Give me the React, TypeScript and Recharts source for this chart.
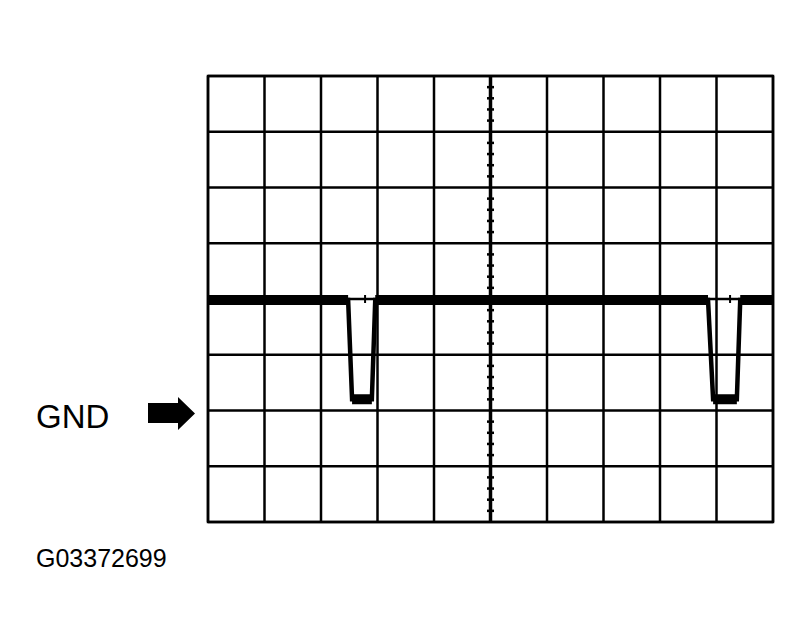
import React from 'react';
import {
  ComposedChart,
  Line,
  Scatter,
  XAxis,
  YAxis,
  CartesianGrid,
  ReferenceLine,
  ReferenceArea,
} from 'recharts';

// scope trace, in divisions (x: 0..10, y: -4..4, 0 = centre line)
const traceX = [0, 2.48, 2.55, 2.9, 2.96, 8.85, 8.94, 9.36, 9.42, 10];
const traceY = [-0.02, -0.02, -1.8, -1.8, -0.02, -0.02, -1.8, -1.8, -0.02, -0.02];

const gridX = [0, 1, 2, 3, 4, 5, 6, 7, 8, 9, 10];
const gridY = [-4, -3, -2, -1, 0, 1, 2, 3, 4];

// minor marks on the vertical centre axis
const minorY = [
  3.8, 3.6, 3.4, 3.2, 2.8, 2.6, 2.4, 2.2, 1.8, 1.6, 1.4, 1.2, 0.8, 0.6, 0.4, 0.2,
  -0.2, -0.4, -0.6, -0.8, -1.2, -1.4, -1.6, -1.8, -2.2, -2.4, -2.6, -2.8, -3.2, -3.4, -3.6, -3.8,
];
// markers visible on the centre line during the dips
const markerX = [2.78, 9.24];

const traceData = traceX.map((x, i) => ({ x, y: traceY[i] }));

// flat parts of the trace are drawn thicker (noise band), split with null gaps
const bandData: { x: number; band: number | null }[] = [];
traceData.forEach((p, i) => {
  const next = traceData[i + 1];
  if (next && next.y === p.y) {
    bandData.push({ x: p.x, band: p.y });
    bandData.push({ x: next.x, band: next.y });
    bandData.push({ x: next.x, band: null });
  }
});

const minorData = minorY.map((y) => ({ x: 5, y }));
const markerData = markerX.map((x) => ({ x, y: 0 }));

const HDash = (props: any) => (
  <line x1={props.cx - 3.5} x2={props.cx + 3.5} y1={props.cy} y2={props.cy} stroke="#000" strokeWidth={2.5} />
);
const VDash = (props: any) => (
  <g>
    <line x1={props.cx} x2={props.cx} y1={props.cy - 4} y2={props.cy + 4} stroke="#000" strokeWidth={2} />
    <line x1={props.cx - 3} x2={props.cx + 3} y1={props.cy} y2={props.cy} stroke="#000" strokeWidth={1} />
  </g>
);

export default function App() {
  return (
    <div style={{ position: 'absolute', left: 0, top: 0, width: 811, height: 643, background: '#fff' }}>
      <ComposedChart
        width={811}
        height={643}
        margin={{ top: 76, right: 38, bottom: 121, left: 208 }}
      >
        <XAxis type="number" dataKey="x" domain={[0, 10]} ticks={gridX} hide allowDataOverflow />
        <YAxis type="number" domain={[-4, 4]} ticks={gridY} hide allowDataOverflow />
        <CartesianGrid stroke="#000" strokeWidth={2.5} horizontalValues={gridY} verticalValues={gridX} />
        <ReferenceArea x1={0} x2={10} y1={-4} y2={4} fill="none" stroke="#000" strokeWidth={2.5} fillOpacity={0} />
        <ReferenceLine x={5} stroke="#000" strokeWidth={3.5} />
        <Scatter data={minorData} dataKey="y" shape={HDash} isAnimationActive={false} />
        <Scatter data={markerData} dataKey="y" shape={VDash} isAnimationActive={false} />
        <Line
          data={traceData}
          dataKey="y"
          type="linear"
          stroke="#000"
          strokeWidth={4.5}
          dot={false}
          isAnimationActive={false}
        />
        <Line
          data={bandData}
          dataKey="band"
          type="linear"
          stroke="#000"
          strokeWidth={10}
          strokeLinecap="butt"
          connectNulls={false}
          dot={false}
          isAnimationActive={false}
        />
      </ComposedChart>
      <svg
        width={811}
        height={643}
        style={{ position: 'absolute', left: 0, top: 0, pointerEvents: 'none' }}
      >
        <text x={36} y={428} fontFamily="Liberation Sans, Arial, sans-serif" fontSize={33} fill="#000">
          GND
        </text>
        <polygon points="148,403 178,403 178,397 195,413.5 178,430 178,423 148,423" fill="#000" />
        <text x={36} y={567} fontFamily="Liberation Sans, Arial, sans-serif" fontSize={25} fill="#000">
          G03372699
        </text>
      </svg>
    </div>
  );
}
